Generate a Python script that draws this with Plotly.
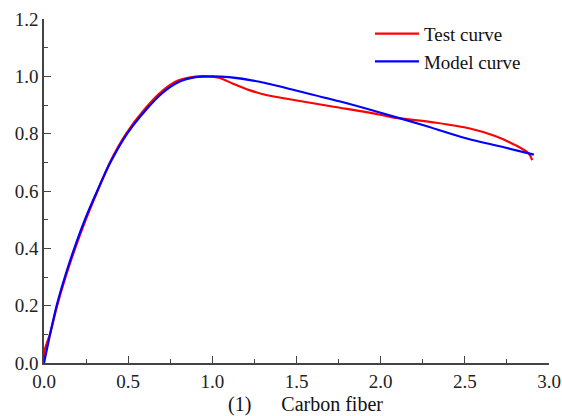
import plotly.graph_objects as go

# Normalised stress-strain data, carbon fiber specimen
test_x = [0.0, 0.004, 0.035, 0.078, 0.128, 0.185, 0.248, 0.318, 0.392, 0.488,
          0.60, 0.70, 0.80, 0.90, 0.97, 1.04, 1.12, 1.22, 1.32, 1.52, 1.72,
          1.99, 2.07, 2.33, 2.53, 2.68, 2.80, 2.88, 2.90]
test_y = [0.0, 0.045, 0.10, 0.20, 0.30, 0.40, 0.50, 0.60, 0.70, 0.80,
          0.887, 0.948, 0.986, 0.999, 1.0, 0.995, 0.975, 0.952, 0.935,
          0.914, 0.894, 0.867, 0.857, 0.838, 0.818, 0.792, 0.760, 0.731,
          0.708]

model_x = [0.0, 0.036, 0.075, 0.124, 0.18, 0.243, 0.316, 0.395, 0.494, 0.60,
           0.70, 0.80, 0.90, 1.0, 1.1, 1.28, 1.52, 1.76, 2.0, 2.25, 2.5,
           2.75, 2.91]
model_y = [0.0, 0.10, 0.20, 0.30, 0.40, 0.50, 0.60, 0.70, 0.80, 0.879,
           0.94, 0.98, 0.997, 1.0, 0.997, 0.981, 0.947, 0.912, 0.873, 0.83,
           0.785, 0.75, 0.727]

x_ticks = [0.0, 0.5, 1.0, 1.5, 2.0, 2.5, 3.0]
y_ticks = [0.0, 0.2, 0.4, 0.6, 0.8, 1.0, 1.2]

FONT = "Liberation Serif, Times New Roman, serif"

fig = go.Figure()
fig.add_trace(go.Scatter(x=test_x, y=test_y, mode="lines", name="Test curve",
                         line=dict(color="#ff0000", width=2.2, shape="spline",
                                   smoothing=0.8)))
fig.add_trace(go.Scatter(x=model_x, y=model_y, mode="lines", name="Model curve",
                         line=dict(color="#0000ff", width=2.2, shape="spline",
                                   smoothing=0.8)))

axis_common = dict(
    showline=True, linecolor="#444444", linewidth=1.5, mirror=False,
    showgrid=False, zeroline=False, automargin=False,
    ticks="inside", ticklen=7, tickwidth=1.3, tickcolor="#444444",
    tickfont=dict(family=FONT, size=19, color="#222222"),
    minor=dict(ticks="inside", ticklen=4, tickwidth=1.2, tickcolor="#444444",
               showgrid=False),
)

fig.update_xaxes(range=[0, 3.0], tickvals=x_ticks,
                 ticktext=[f"{v:.1f}" for v in x_ticks],
                 minor_dtick=0.25, minor_tick0=0, **axis_common)
fig.update_yaxes(range=[0, 1.2], tickvals=y_ticks,
                 ticktext=[f"{v:.1f}" for v in y_ticks],
                 minor_dtick=0.1, minor_tick0=0, **axis_common)

fig.add_annotation(text="(1)" + "\u00a0" * 6 + "Carbon fiber",
                   xref="paper", yref="paper", x=0.517, y=-0.122,
                   xanchor="center", yanchor="middle", showarrow=False,
                   borderpad=0,
                   font=dict(family=FONT, size=20, color="#111111"))

fig.update_layout(
    width=562, height=416,
    margin=dict(l=44, r=13, t=19, b=53),
    paper_bgcolor="white", plot_bgcolor="white",
    showlegend=True,
    legend=dict(x=0.6455, y=1.012, xanchor="left", yanchor="top",
                bgcolor="rgba(0,0,0,0)", borderwidth=0,
                font=dict(family=FONT, size=19, color="#111111"),
                tracegroupgap=0, itemwidth=44),
)

fig.write_html("out.html")
